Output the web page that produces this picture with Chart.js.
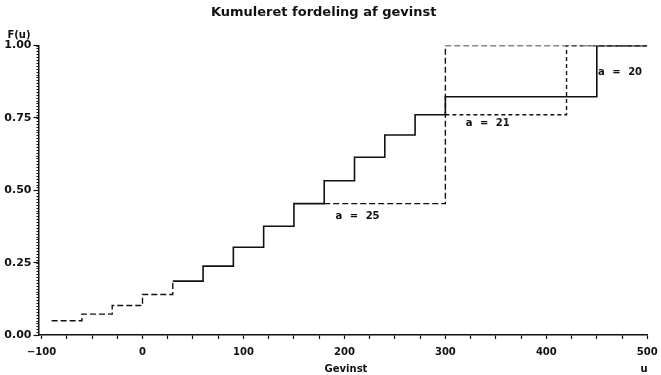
<!DOCTYPE html>
<html lang="da">
<head>
<meta charset="UTF-8">
<title>Kumuleret fordeling af gevinst</title>
<script src="https://cdn.jsdelivr.net/npm/chart.js"></script>
<style>
    html, body { margin: 0; padding: 0; background: #fff; }
    #wrap { width: 661px; height: 375px; }
</style>
</head>
<body>
<div id="wrap"><canvas id="fordeling"></canvas></div>
<script>
// fælles trappe for alle tre værdier af a
const gevinst   = [-90, -60, -30, 0, 30, 60, 90, 120, 150, 180, 210, 240, 270];
const fordeling = [0.049, 0.072, 0.102, 0.140, 0.186, 0.238, 0.303, 0.376, 0.454, 0.533, 0.614, 0.691, 0.761];

// forløbet efter forgreningen, pr. a
const u20 = [300, 450, 500];
const f20 = [0.823, 1, 1];
const u21 = [300, 420, 500];
const f21 = [0.761, 1, 1];
const u25 = [180, 300, 500];
const f25 = [0.454, 1, 1];

const aVaerdier = [20, 21, 25];
const etiketU   = [473, 342, 213];
const etiketF   = [0.908, 0.73, 0.41];

const xTicks = [-100, 0, 100, 200, 300, 400, 500];
const yTicks = [0, 0.25, 0.5, 0.75, 1];

function punkter(us, fs) {
    return us.map((u, i) => ({ x: u, y: fs[i] }));
}

const ink = '#111';
const fontTal = { family: 'DejaVu Sans', weight: 'bold' };

// a = 20 tegnes fuldt optrukket fra u = 30
const solid20 = punkter(gevinst.slice(4).concat(u20), fordeling.slice(4).concat(f20));
const faelles = punkter(gevinst.slice(0, 5), fordeling.slice(0, 5));

const tekster = {
    id: 'tekster',
    afterDraw(chart) {
        const ctx = chart.ctx;
        const x = chart.scales.x, y = chart.scales.y;
        ctx.save();
        ctx.fillStyle = ink;

        // små streger på y-aksen for hver 0.01
        ctx.strokeStyle = ink;
        ctx.lineWidth = 1;
        ctx.beginPath();
        for (let k = 0; k <= 100; k++) {
            const py = Math.round(y.getPixelForValue(k / 100)) + 0.5;
            ctx.moveTo(x.left - 2, py);
            ctx.lineTo(x.left, py);
        }
        ctx.stroke();

        ctx.textAlign = 'center';
        ctx.textBaseline = 'middle';
        ctx.font = 'bold 10px "DejaVu Sans"';
        ctx.fillText('F(u)', 19, 35);
        ctx.fillText('Gevinst', 346, 369);
        ctx.fillText('u', 644, 369);

        ctx.wordSpacing = '4px';
        aVaerdier.forEach((a, i) => {
            ctx.fillText('a = ' + a, x.getPixelForValue(etiketU[i]), y.getPixelForValue(etiketF[i]));
        });
        ctx.restore();
    }
};

const linje = { stepped: true, borderColor: ink, borderWidth: 1.4, pointRadius: 0, fill: false };

new Chart(document.getElementById('fordeling'), {
    type: 'line',
    data: {
        datasets: [
            { ...linje, label: 'a = 20', data: solid20, borderWidth: 1.6 },
            { ...linje, label: 'a = 21', data: punkter(u21, f21), borderDash: [4, 3] },
            { ...linje, label: 'a = 25', data: punkter(u25, f25), borderDash: [6, 3] },
            { ...linje, label: 'fælles', data: faelles, borderDash: [6, 3] }
        ]
    },
    options: {
        responsive: true,
        maintainAspectRatio: false,
        animation: false,
        devicePixelRatio: 1,
        layout: { padding: { left: 0, right: 13.7, top: 0, bottom: 0 } },
        plugins: {
            legend: { display: false },
            tooltip: { enabled: false },
            colors: { enabled: false },
            title: {
                display: true,
                text: 'Kumuleret fordeling af gevinst',
                color: ink,
                font: { family: 'DejaVu Sans', size: 13, weight: 'bold' },
                padding: { top: 5, bottom: 25 }
            }
        },
        scales: {
            x: {
                type: 'linear',
                min: -103,
                max: 500,
                afterBuildTicks(scale) {
                    const t = [];
                    for (let v = -100; v <= 500; v += 25) t.push({ value: v });
                    scale.ticks = t;
                },
                afterFit(scale) {
                    scale.height = 40;
                    scale.paddingLeft = 0;
                    scale.paddingRight = 0;
                },
                border: { display: true, color: ink, width: 1.5 },
                grid: { drawOnChartArea: false, tickLength: 4, tickColor: ink, tickWidth: 1.2 },
                ticks: {
                    color: ink,
                    font: { ...fontTal, size: 10 },
                    padding: 7,
                    maxRotation: 0,
                    autoSkip: false,
                    callback: v => xTicks.includes(v) ? String(v).replace('-', '\u2212') : ''
                }
            },
            y: {
                min: 0,
                max: 1,
                afterBuildTicks(scale) {
                    scale.ticks = yTicks.map(v => ({ value: v }));
                },
                afterFit(scale) { scale.width = 38.5; },
                border: { display: true, color: ink, width: 1.5 },
                grid: { drawOnChartArea: false, tickLength: 5, tickColor: ink, tickWidth: 1.2 },
                ticks: {
                    color: ink,
                    font: { ...fontTal, size: 11 },
                    padding: 2,
                    callback: v => v.toFixed(2)
                }
            }
        }
    },
    plugins: [tekster]
});
</script>
</body>
</html>
